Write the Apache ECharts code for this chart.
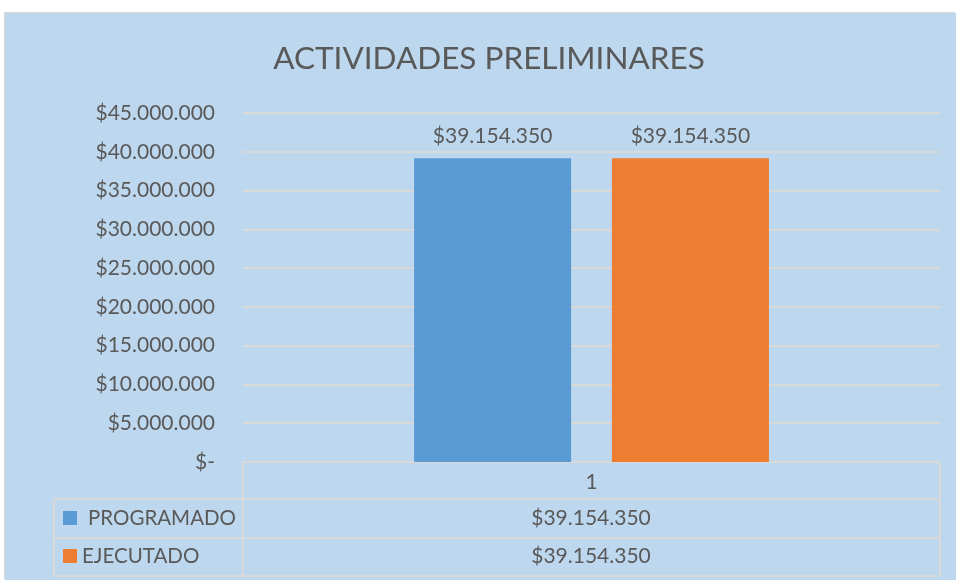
<!DOCTYPE html>
<html>
<head>
<meta charset="utf-8">
<script src="https://cdn.jsdelivr.net/npm/echarts@6/dist/echarts.min.js"></script>
<style>
  html, body { margin: 0; padding: 0; background: #ffffff; }
  #chart {
    position: absolute; left: 5px; top: 13px;
    width: 951px; height: 567px;
    background: #BDD7EE;
    box-shadow: -1px -1px 0 #D9D9D9;
  }
</style>
</head>
<body>
<div id="chart"></div>
<script>
// datos
var categorias = ['1'];
var programado = [39154350];
var ejecutado = [39154350];
var nombres = ['PROGRAMADO', 'EJECUTADO'];
var colores = ['#5B9BD5', '#ED7D31'];

var FONT = 'Lato';
var GRIS = '#595959';
var LINEA = '#D9D9D9';

function moneda(v) {
  if (v === 0) return '$-';
  return '$' + String(Math.round(v)).replace(/\B(?=(\d{3})+(?!\d))/g, '.');
}

var chart = echarts.init(document.getElementById('chart'));

// tabla de datos debajo del eje
var filas = [programado, ejecutado];
var tabla = [];
var yLineas = [486, 525, 563];
yLineas.forEach(function (y) {
  tabla.push({ type: 'line', shape: { x1: 49, y1: y, x2: 935, y2: y }, style: { stroke: LINEA, lineWidth: 2 } });
});
tabla.push({ type: 'line', shape: { x1: 238, y1: 449, x2: 238, y2: 563 }, style: { stroke: LINEA, lineWidth: 2 } });
tabla.push({ type: 'line', shape: { x1: 935, y1: 449, x2: 935, y2: 563 }, style: { stroke: LINEA, lineWidth: 2 } });
tabla.push({ type: 'line', shape: { x1: 49, y1: 486, x2: 49, y2: 563 }, style: { stroke: LINEA, lineWidth: 2 } });

var textX = [83, 77];
filas.forEach(function (fila, i) {
  var yc = 505 + i * 38;
  tabla.push({ type: 'rect', shape: { x: 58, y: yc - 7, width: 14, height: 14 }, style: { fill: colores[i] } });
  tabla.push({ type: 'text', x: textX[i], y: yc, style: { text: nombres[i], fill: GRIS, font: '20.5px ' + FONT, verticalAlign: 'middle' } });
  tabla.push({ type: 'text', x: 586, y: yc, style: { text: moneda(fila[0]), fill: GRIS, font: '21px ' + FONT, align: 'center', verticalAlign: 'middle' } });
});

var option = {
  animation: false,
  title: {
    text: 'ACTIVIDADES PRELIMINARES',
    left: 479, top: 25,
    textAlign: 'center',
    textStyle: { color: GRIS, fontFamily: FONT, fontSize: 31.5, fontWeight: 'normal' }
  },
  grid: { left: 238, right: 16, top: 100, bottom: 118 },
  xAxis: {
    type: 'category',
    data: categorias,
    axisLine: { lineStyle: { color: LINEA, width: 2 } },
    axisTick: { show: false },
    axisLabel: { color: GRIS, fontFamily: FONT, fontSize: 21, margin: 10 }
  },
  yAxis: {
    type: 'value',
    min: 0, max: 45000000, interval: 5000000,
    axisLine: { show: false },
    axisTick: { show: false },
    splitLine: { lineStyle: { color: LINEA, width: 2 } },
    axisLabel: { color: GRIS, fontFamily: FONT, fontSize: 21, margin: 28, formatter: moneda }
  },
  series: [
    {
      name: nombres[0], type: 'bar', data: programado,
      barWidth: 157, barGap: '26%',
      itemStyle: { color: colores[0] },
      label: { show: true, position: 'top', distance: 12, color: GRIS, fontFamily: FONT, fontSize: 21, formatter: function (p) { return moneda(p.value); } }
    },
    {
      name: nombres[1], type: 'bar', data: ejecutado,
      barWidth: 157,
      itemStyle: { color: colores[1] },
      label: { show: true, position: 'top', distance: 12, color: GRIS, fontFamily: FONT, fontSize: 21, formatter: function (p) { return moneda(p.value); } }
    }
  ],
  graphic: tabla
};
chart.setOption(option);
</script>
</body>
</html>
